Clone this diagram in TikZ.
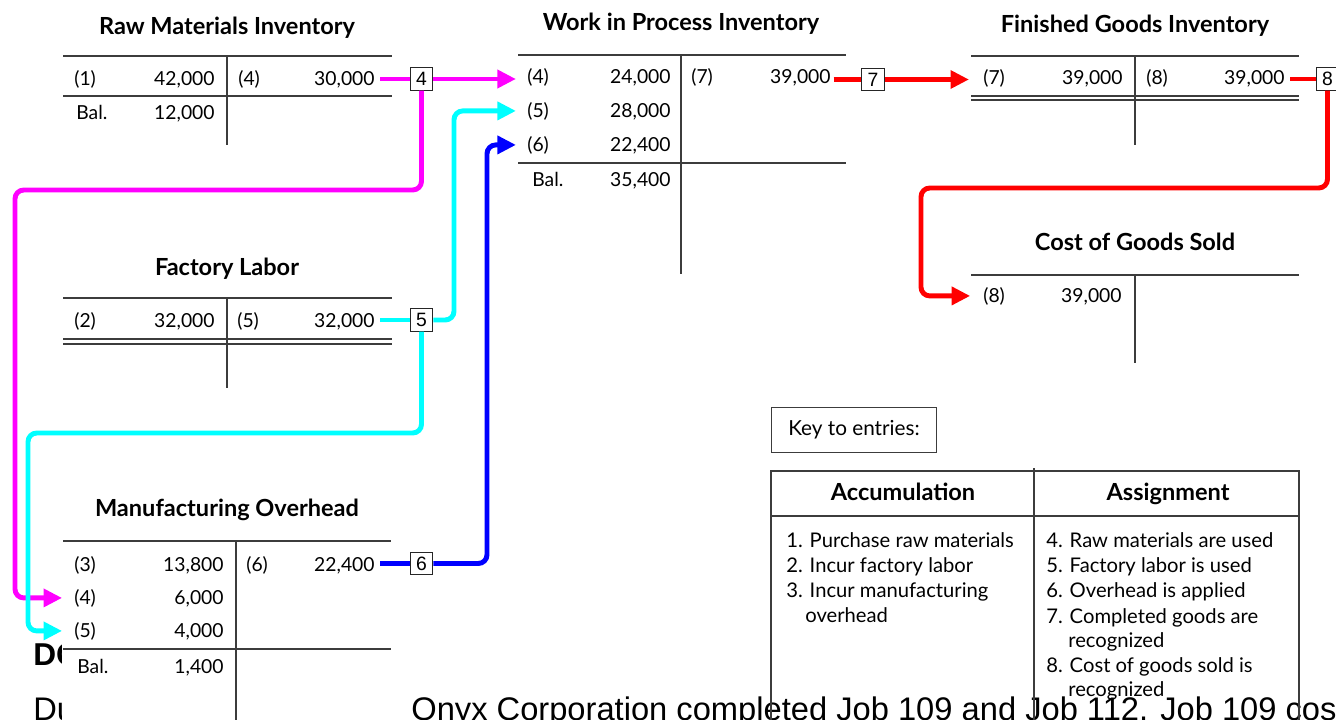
\documentclass[tikz,border=0pt]{standalone}
\usepackage{fontspec}
\setmainfont{Lato}
\newfontfamily\slidefont{Liberation Sans}
\usetikzlibrary{arrows.meta}
\definecolor{rmflow}{RGB}{255,0,255}
\definecolor{flflow}{RGB}{0,255,255}
\definecolor{ohflow}{RGB}{0,0,255}
\definecolor{fgflow}{RGB}{255,0,0}
\definecolor{ruleclr}{RGB}{60,60,60}
\begin{document}
\begin{tikzpicture}[x=0.02cm, y=-0.02cm,
  acct/.style={font=\fontsize{13.4}{16}\selectfont\bfseries, anchor=base, inner sep=0pt},
  ref/.style={font=\fontsize{11}{13}\selectfont, anchor=base west, inner sep=0pt},
  amt/.style={font=\fontsize{11}{13}\selectfont, anchor=base east, inner sep=0pt},
  tline/.style={draw=ruleclr, line width=0.65pt},
  entrybox/.style={draw=black!85, line width=0.6pt, fill=white, inner sep=0pt,
    minimum width=13pt, minimum height=12.6pt, font=\slidefont\fontsize{11}{13}\selectfont},
  flow/.style={line width=2.8pt, rounded corners=5pt},
  flowtip/.style={-{Triangle[length=10.5pt,width=10pt]}},
  kline/.style={draw=ruleclr, line width=0.6pt},
  keybox/.style={draw=ruleclr, line width=0.6pt, minimum width=94.1pt, minimum height=26pt,
    inner sep=0pt, font=\fontsize{11.8}{14}\selectfont},
  keyhead/.style={font=\fontsize{13.4}{16}\selectfont\bfseries, anchor=base, inner sep=0pt},
  keyitem/.style={font=\fontsize{11.5}{14}\selectfont, anchor=base west, inner sep=0pt},
  slide/.style={font=\slidefont\fontsize{18.6}{22}\selectfont, anchor=base west, inner sep=0pt},
  slidehead/.style={font=\slidefont\fontsize{18}{22}\selectfont\bfseries, anchor=base west, inner sep=0pt}]
\useasboundingbox (0,0) rectangle (1336,720);
\clip (0,0) rectangle (1336,720);
\fill[white] (0,0) rectangle (1336,720);

% text of the underlying slide
\node[slidehead] (dohead) at (33,665) {DO};
\node[slide] (durl) at (33,720) {Du};
\node[slide] (onyx) at (411,720) {Onyx Corporation completed Job 109 and Job 112. Job 109 cost};
\fill[white] (62,640) rectangle (410,720);

% ---------- Raw Materials Inventory ----------
\node[acct] (rmT) at (227,34) {Raw Materials Inventory};
\draw[tline] (63,56) -- (392,56) (227,56) -- (227,145) (63,96) -- (392,96);
\node[ref] (rml1) at (74,85) {(1)};
\node[amt] (rmd1) at (215,85) {42,000};
\node[ref] (rml4) at (238,85) {(4)};
\node[amt] (rmc4) at (375,85) {30,000};
\node[ref] (rmbl) at (76,119) {Bal.};
\node[amt] (rmbd) at (215,119) {12,000};

% ---------- Work in Process Inventory ----------
\node[acct] (wipT) at (681,31) {Work in Process Inventory};
\draw[tline] (518,55) -- (846,55) (681,55) -- (681,274) (518,163) -- (846,163);
\node[ref] (wipl4) at (527,83) {(4)};
\node[amt] (wipd4) at (671,83) {24,000};
\node[ref] (wipl5) at (527,117) {(5)};
\node[amt] (wipd5) at (671,117) {28,000};
\node[ref] (wipl6) at (527,151) {(6)};
\node[amt] (wipd6) at (671,151) {22,400};
\node[ref] (wipbl) at (532,186) {Bal.};
\node[amt] (wipbd) at (671,186) {35,400};
\node[ref] (wipl7) at (691,83) {(7)};
\node[amt] (wipc7) at (831,83) {39,000};

% ---------- Finished Goods Inventory ----------
\node[acct] (fgT) at (1135,32) {Finished Goods Inventory};
\draw[tline] (971,56) -- (1299,56) (1135,56) -- (1135,145)
  (971,96) -- (1299,96) (971,100) -- (1299,100);
\node[ref] (fgl7) at (983,84) {(7)};
\node[amt] (fgd7) at (1123,84) {39,000};
\node[ref] (fgl8) at (1146,84) {(8)};
\node[amt] (fgc8) at (1285,84) {39,000};

% ---------- Cost of Goods Sold ----------
\node[acct] (cgT) at (1135,250) {Cost of Goods Sold};
\draw[tline] (971,275) -- (1299,275) (1135,275) -- (1135,363);
\node[ref] (cgl8) at (983,302) {(8)};
\node[amt] (cgd8) at (1122,302) {39,000};

% ---------- Factory Labor ----------
\node[acct] (flT) at (227,275) {Factory Labor};
\draw[tline] (63,298) -- (392,298) (227,298) -- (227,388)
  (63,339) -- (392,339) (63,344) -- (392,344);
\node[ref] (fll2) at (74,327) {(2)};
\node[amt] (fld2) at (215,327) {32,000};
\node[ref] (fll5) at (237,327) {(5)};
\node[amt] (flc5) at (375,327) {32,000};

% ---------- Manufacturing Overhead ----------
\node[acct] (moT) at (227,516) {Manufacturing Overhead};
\draw[tline] (63,541) -- (391,541) (236,541) -- (236,720) (63,649) -- (391,649);
\node[ref] (mol3) at (74,571) {(3)};
\node[amt] (mod3) at (224,571) {13,800};
\node[ref] (mol4) at (74,604) {(4)};
\node[amt] (mod4) at (224,604) {6,000};
\node[ref] (mol5) at (74,637) {(5)};
\node[amt] (mod5) at (224,637) {4,000};
\node[ref] (mobl) at (77,673) {Bal.};
\node[amt] (mobd) at (224,673) {1,400};
\node[ref] (mol6) at (246,571) {(6)};
\node[amt] (moc6) at (375,571) {22,400};

% ---------- entry markers ----------
\node[entrybox] (box4) at (421.5,79) {4};
\node[entrybox] (box5) at (421.5,320) {5};
\node[entrybox] (box6) at (421.5,563.5) {6};
\node[entrybox] (box7) at (873,79.5) {7};
\node[entrybox] (box8) at (1327.5,79) {8};

% bend points of the flows
\coordinate (rmbend) at (15,190);
\coordinate (flbend) at (28,433);
\coordinate (flup) at (454,0);
\coordinate (ohup) at (487,0);
\coordinate (fgbend) at (921,188);

% ---------- flows ----------
% (4) raw materials used
\draw[flow, rmflow, shorten <=3pt] (box4.west -| rmc4.east) -- (box4.west);
\draw[flow, rmflow, flowtip, shorten >=6.3pt] (box4.east) -- (box4.east -| wipl4.west);
\draw[flow, rmflow, flowtip, shorten >=6.8pt] (box4.south) |- (rmbend) |- (mol4.west);
% (5) factory labor used
\draw[flow, flflow, shorten <=3pt] (box5.west -| flc5.east) -- (box5.west);
\draw[flow, flflow, flowtip, shorten >=6.3pt] (box5.east) -| (flup |- wipl5.west) -- (wipl5.west);
\draw[flow, flflow, flowtip, shorten >=6.8pt] (box5.south) |- (flbend) |- (mol5.west);
% (6) overhead applied
\draw[flow, ohflow, shorten <=3pt] (box6.west -| moc6.east) -- (box6.west);
\draw[flow, ohflow, flowtip, shorten >=6.3pt] (box6.east) -| (ohup |- wipl6.west) -- (wipl6.west);
% (7) completed goods
\draw[flow, fgflow, shorten <=1.5pt] (box7.west -| wipc7.east) -- (box7.west);
\draw[flow, fgflow, flowtip, shorten >=8pt] (box7.east) -- (box7.east -| fgl7.west);
% (8) cost of goods sold
\draw[flow, fgflow, shorten <=3pt] (box8.west -| fgc8.east) -- (box8.west);
\draw[flow, fgflow, flowtip, shorten >=7.3pt] (box8.south) |- (fgbend) |- (cgl8.west);

% ---------- key to entries ----------
\node[keybox] (key) at (854,430) {Key to entries:};
\draw[kline] (771,471) rectangle (1299,740);
\draw[kline] (1034,468) -- (1034,720);
\draw[kline] (771,516) -- (1299,516);
\node[keyhead] (acchead) at (903,500) {Accumulation};
\node[keyhead] (asshead) at (1168,500) {Assignment};
\node[keyitem] (acc1) at (786,547) {1. Purchase raw materials};
\node[keyitem] (acc2) at (786,572) {2. Incur factory labor};
\node[keyitem] (acc3) at (786,597) {3. Incur manufacturing};
\node[keyitem] (acc3b) at (805,622) {overhead};
\node[keyitem] (ass4) at (1046,547) {4. Raw materials are used};
\node[keyitem] (ass5) at (1046,572) {5. Factory labor is used};
\node[keyitem] (ass6) at (1046,597) {6. Overhead is applied};
\node[keyitem] (ass7) at (1046,623) {7. Completed goods are};
\node[keyitem] (ass7b) at (1068,647) {recognized};
\node[keyitem] (ass8) at (1046,672) {8. Cost of goods sold is};
\node[keyitem] (ass8b) at (1068,696) {recognized};
\end{tikzpicture}
\end{document}
